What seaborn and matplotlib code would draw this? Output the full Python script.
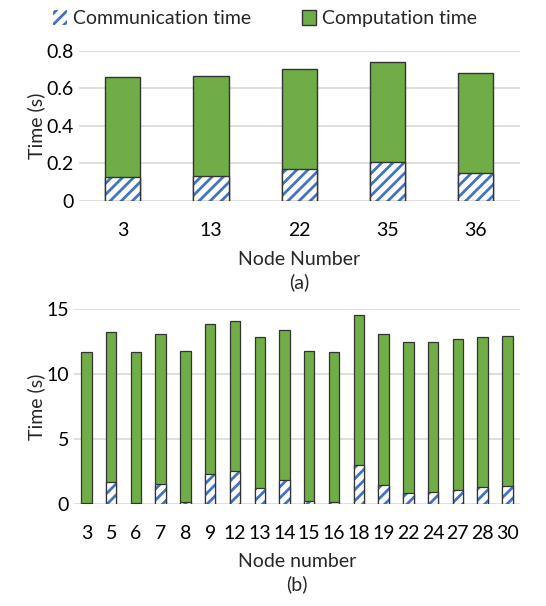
import pandas as pd
import matplotlib
matplotlib.use("Agg")
import matplotlib.pyplot as plt
import seaborn as sns
from matplotlib.patches import Patch

# Datos
nodos_a = ["3", "13", "22", "35", "36"]
total_a = [0.658, 0.664, 0.703, 0.742, 0.681]
comunic_a = [0.126, 0.131, 0.169, 0.208, 0.149]

nodos_b = ["3", "5", "6", "7", "8", "9", "12", "13", "14", "15", "16", "18",
           "19", "22", "24", "27", "28", "30"]
total_b = [11.71, 13.28, 11.71, 13.07, 11.76, 13.90, 14.08, 12.84, 13.43,
           11.79, 11.71, 14.59, 13.07, 12.46, 12.51, 12.69, 12.89, 12.97]
comunic_b = [0.10, 1.67, 0.10, 1.52, 0.15, 2.29, 2.52, 1.26, 1.82,
             0.23, 0.15, 3.01, 1.49, 0.85, 0.92, 1.08, 1.28, 1.36]

VERDE = "#70AD47"
AZUL = "#4472C4"
GRIS = "#D9D9D9"
FS = 14

sns.set_theme(style="white")
plt.rcParams["font.family"] = ["Lato", "DejaVu Sans"]
plt.rcParams["hatch.linewidth"] = 2.0

fig = plt.figure(figsize=(5.46, 6.06), dpi=100)
ax_a = fig.add_axes([0.1438, 0.6683, 0.8082, 0.2480])
ax_b = fig.add_axes([0.1355, 0.1683, 0.8165, 0.3213])


def dibujar(ax, nodos, total, comunic, ancho, lw):
    df = pd.DataFrame({"nodo": nodos, "total": total, "comm": comunic})
    sns.barplot(data=df, x="nodo", y="total", color=VERDE, saturation=1,
                width=ancho, edgecolor="#333333", linewidth=lw, ax=ax)
    sns.barplot(data=df, x="nodo", y="comm", color="white", saturation=1,
                width=ancho, edgecolor=AZUL, linewidth=0, hatch="///", ax=ax)
    sns.barplot(data=df, x="nodo", y="comm", fill=False, saturation=1,
                width=ancho, edgecolor="#333333", linewidth=lw, ax=ax)
    ax.set_axisbelow(True)
    ax.yaxis.grid(True, color=GRIS, linewidth=1.2)
    ax.xaxis.grid(False)
    sns.despine(ax=ax, left=True, bottom=True, top=True, right=True)
    ax.tick_params(axis="both", length=0, labelsize=FS, colors="black")
    ax.set_ylabel("Time (s)", fontsize=FS, labelpad=1)


dibujar(ax_a, nodos_a, total_a, comunic_a, 0.4, 1.0)
ax_a.set_ylim(0, 0.8)
ax_a.set_yticks([0, 0.2, 0.4, 0.6, 0.8])
ax_a.set_yticklabels(["0", "0.2", "0.4", "0.6", "0.8"])
ax_a.tick_params(axis="x", pad=15)
ax_a.set_xlabel("Node Number\n(a)", fontsize=FS, labelpad=9, linespacing=1.35)

dibujar(ax_b, nodos_b, total_b, comunic_b, 0.42, 0.9)
ax_b.set_ylim(0, 15)
ax_b.set_yticks([0, 5, 10, 15])
ax_b.tick_params(axis="x", pad=15)
ax_b.set_xlabel("Node number\n(b)", fontsize=FS, labelpad=8, linespacing=1.35)

manijas = [
    Patch(facecolor="white", edgecolor=AZUL, hatch="///", linewidth=0),
    Patch(facecolor=VERDE, edgecolor="#333333", linewidth=1),
]
fig.legend(manijas, ["Communication time", "Computation time"], loc="upper center",
           bbox_to_anchor=(0.485, 1.012), ncol=2, frameon=False, fontsize=FS,
           handlelength=0.75, handleheight=0.75, handletextpad=0.3, columnspacing=2.6)

fig.savefig("out.png", dpi=100)
